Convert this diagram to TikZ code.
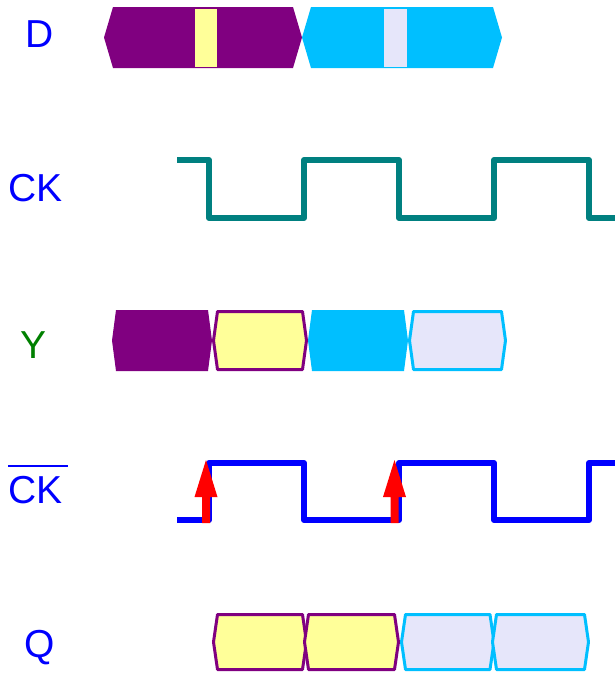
\documentclass[tikz,border=0pt]{standalone}
\usepackage{fontspec}
\setmainfont{Liberation Sans}
\definecolor{vpurple}{RGB}{128,0,128}
\definecolor{vyellow}{RGB}{255,255,153}
\definecolor{vcyan}{RGB}{0,191,255}
\definecolor{vlav}{RGB}{230,230,250}
\definecolor{vteal}{RGB}{0,128,128}
\definecolor{vgreen}{RGB}{0,128,0}
\newcommand\busshape[6]{\path[#6] (#1,{(#3+#4)/2}) -- ({#1+#5},#3) -- ({#2-#5},#3) -- (#2,{(#3+#4)/2}) -- ({#2-#5},#4) -- ({#1+#5},#4) -- cycle;}
\newcommand\edgearrow[1]{\fill[red] ({#1-4},523) -- ({#1-4},497) -- ({#1-11.5},497) -- (#1,460) -- ({#1+11.5},497) -- ({#1+4},497) -- ({#1+4},523) -- cycle;}
\begin{document}
\begin{tikzpicture}[x=1pt,y=-1pt,
  lbl/.style={inner sep=0pt,anchor=base,font=\fontsize{39}{39}\selectfont},
  wave/.style={line width=6pt,line join=round},
  pfill/.style={fill=vpurple},
  cfill/.style={fill=vcyan},
  ybox/.style={fill=vyellow,draw=vpurple,line width=3pt,line join=round},
  lbox/.style={fill=vlav,draw=vcyan,line width=3pt,line join=round}]
\useasboundingbox (0,0) rectangle (615,673);
% labels
\node[lbl,text=blue] (lD) at (40,47) {D};
\node[lbl,text=blue] (lCK) at (35.5,201) {CK};
\node[lbl,text=vgreen] (lY) at (33.5,358) {Y};
\node[lbl,text=blue] (lCKb) at (35.5,503) {\rlap{\rule[36pt]{60pt}{2pt}}CK};
\node[lbl,text=blue] (lQ) at (40,657) {Q};
% D row
\busshape{104}{302}{7}{68}{9}{pfill}
\busshape{302}{502}{7}{68}{9}{cfill}
\fill[vyellow] (195,9) rectangle (217,67);
\fill[vlav] (384,9) rectangle (407,67);
% CK
\draw[wave,vteal] (177,160) -- (209,160) -- (209,218) -- (304,218) -- (304,160) -- (399,160) -- (399,218) -- (494,218) -- (494,160) -- (589,160) -- (589,218) -- (615,218);
% Y row
\busshape{112}{212}{310}{371}{4}{pfill}
\busshape{213.5}{306.5}{311.5}{369.5}{4}{ybox}
\busshape{308}{408}{310}{371}{4}{cfill}
\busshape{409.5}{505.5}{311.5}{369.5}{4}{lbox}
% CK bar
\draw[wave,blue] (177,520) -- (209,520) -- (209,463) -- (304,463) -- (304,520) -- (399,520) -- (399,463) -- (494,463) -- (494,520) -- (589,520) -- (589,463) -- (615,463);
\edgearrow{206}
\edgearrow{394.5}
% Q row
\busshape{213.5}{306.5}{614.5}{669.5}{4}{ybox}
\busshape{304.5}{398.5}{614.5}{669.5}{4}{ybox}
\busshape{401.5}{494}{614.5}{669.5}{4}{lbox}
\busshape{492.5}{588.5}{614.5}{669.5}{4}{lbox}
\end{tikzpicture}
\end{document}
